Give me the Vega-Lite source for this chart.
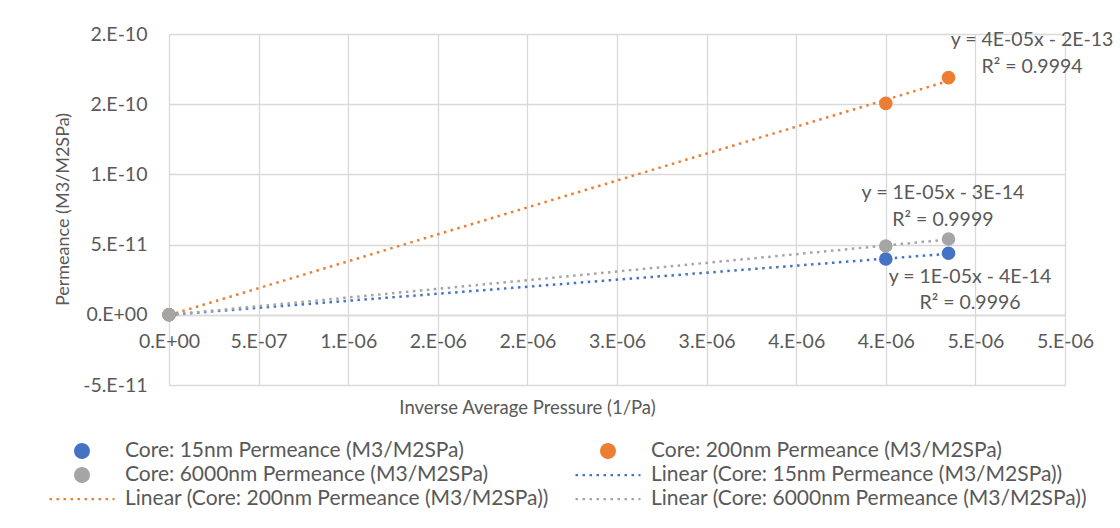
{
  "$schema": "https://vega.github.io/schema/vega-lite/v6.json",
  "width": 896,
  "height": 351,
  "autosize": {"type": "none"},
  "padding": {"left": 169, "top": 34, "right": 55, "bottom": 143},
  "background": "white",
  "config": {
    "view": {"stroke": null},
    "font": "Lato",
    "text": {"font": "Lato"}
  },
  "datasets": {
    "points": [
      {"x": 0, "y": 0, "series": "Core: 15nm Permeance (M3/M2SPa)", "trend": "Linear (Core: 15nm Permeance (M3/M2SPa))"},
      {"x": 4.0e-6, "y": 3.97e-11, "series": "Core: 15nm Permeance (M3/M2SPa)", "trend": "Linear (Core: 15nm Permeance (M3/M2SPa))"},
      {"x": 4.35e-6, "y": 4.38e-11, "series": "Core: 15nm Permeance (M3/M2SPa)", "trend": "Linear (Core: 15nm Permeance (M3/M2SPa))"},
      {"x": 0, "y": 0, "series": "Core: 200nm Permeance (M3/M2SPa)", "trend": "Linear (Core: 200nm Permeance (M3/M2SPa))"},
      {"x": 4.0e-6, "y": 1.506e-10, "series": "Core: 200nm Permeance (M3/M2SPa)", "trend": "Linear (Core: 200nm Permeance (M3/M2SPa))"},
      {"x": 4.35e-6, "y": 1.689e-10, "series": "Core: 200nm Permeance (M3/M2SPa)", "trend": "Linear (Core: 200nm Permeance (M3/M2SPa))"},
      {"x": 0, "y": 0, "series": "Core: 6000nm Permeance (M3/M2SPa)", "trend": "Linear (Core: 6000nm Permeance (M3/M2SPa))"},
      {"x": 4.0e-6, "y": 4.9e-11, "series": "Core: 6000nm Permeance (M3/M2SPa)", "trend": "Linear (Core: 6000nm Permeance (M3/M2SPa))"},
      {"x": 4.35e-6, "y": 5.4e-11, "series": "Core: 6000nm Permeance (M3/M2SPa)", "trend": "Linear (Core: 6000nm Permeance (M3/M2SPa))"}
    ],
    "annotations": [
      {"x": 4.816e-6, "y": 1.957e-10, "label": "y = 4E-05x - 2E-13"},
      {"x": 4.816e-6, "y": 1.765e-10, "label": "R² = 0.9994"},
      {"x": 4.319e-6, "y": 8.675e-11, "label": "y = 1E-05x - 3E-14"},
      {"x": 4.319e-6, "y": 6.752e-11, "label": "R² = 0.9999"},
      {"x": 4.47e-6, "y": 2.692e-11, "label": "y = 1E-05x - 4E-14"},
      {"x": 4.47e-6, "y": 8.4e-12, "label": "R² = 0.9996"}
    ]
  },
  "layer": [
    {
      "data": {"name": "points"},
      "transform": [
        {"regression": "y", "on": "x", "groupby": ["trend"], "method": "linear"}
      ],
      "mark": {"type": "line", "strokeWidth": 2.5, "clip": false},
      "encoding": {
        "x": {
          "field": "x",
          "type": "quantitative",
          "scale": {"domain": [0, 5e-6], "nice": false, "zero": false},
          "axis": {
            "values": [0, 5e-7, 1e-6, 1.5e-6, 2e-6, 2.5e-6, 3e-6, 3.5e-6, 4e-6, 4.5e-6, 5e-6],
            "labelExpr": "datum.value == 0 ? '0.E+00' : (datum.value < 0 ? '-' : '') + round(abs(datum.value) / pow(10, floor(log(abs(datum.value)) / LN10 + 1e-9)) + 1e-9) + '.E' + (floor(log(abs(datum.value)) / LN10 + 1e-9) < 0 ? '-' : '+') + (abs(floor(log(abs(datum.value)) / LN10 + 1e-9)) < 10 ? '0' : '') + abs(floor(log(abs(datum.value)) / LN10 + 1e-9))",
            "offset": -70,
            "ticks": false,
            "domain": true,
            "domainColor": "#D9D9D9",
            "domainWidth": 1.3,
            "grid": true,
            "gridColor": "#D9D9D9",
            "gridWidth": 1.3,
            "labelPadding": 17,
            "labelFontSize": 19.5,
            "labelColor": "#595959",
            "labelFont": "Lato",
            "labelFlush": false,
            "labelOverlap": false,
            "title": "Inverse Average Pressure (1/Pa)",
            "titleX": 358,
            "titleY": 92,
            "titleAlign": "center",
            "titleBaseline": "middle",
            "titleFontSize": 18.5,
            "titleFontWeight": "normal",
            "titleColor": "#595959",
            "titleFont": "Lato"
          }
        },
        "y": {
          "field": "y",
          "type": "quantitative",
          "scale": {"domain": [-5e-11, 2e-10], "nice": false, "zero": false},
          "axis": {
            "values": [-5e-11, 0, 5e-11, 1e-10, 1.5e-10, 2e-10],
            "labelExpr": "datum.value == 0 ? '0.E+00' : (datum.value < 0 ? '-' : '') + round(abs(datum.value) / pow(10, floor(log(abs(datum.value)) / LN10 + 1e-9)) + 1e-9) + '.E' + (floor(log(abs(datum.value)) / LN10 + 1e-9) < 0 ? '-' : '+') + (abs(floor(log(abs(datum.value)) / LN10 + 1e-9)) < 10 ? '0' : '') + abs(floor(log(abs(datum.value)) / LN10 + 1e-9))",
            "ticks": false,
            "domain": false,
            "grid": true,
            "gridColor": "#D9D9D9",
            "gridWidth": 1.3,
            "labelPadding": 22,
            "labelFontSize": 19.5,
            "labelColor": "#595959",
            "labelFont": "Lato",
            "labelFlush": false,
            "labelOverlap": false,
            "title": "Permeance (M3/M2SPa)",
            "titleX": -106,
            "titleY": 175,
            "titleAngle": 270,
            "titleAlign": "center",
            "titleBaseline": "middle",
            "titleFontSize": 18,
            "titleFontWeight": "normal",
            "titleColor": "#595959",
            "titleFont": "Lato"
          }
        },
        "color": {
          "field": "trend",
          "type": "nominal",
          "title": null,
          "scale": {
            "domain": [
              "Core: 15nm Permeance (M3/M2SPa)",
              "Core: 200nm Permeance (M3/M2SPa)",
              "Core: 6000nm Permeance (M3/M2SPa)",
              "Linear (Core: 15nm Permeance (M3/M2SPa))",
              "Linear (Core: 200nm Permeance (M3/M2SPa))",
              "Linear (Core: 6000nm Permeance (M3/M2SPa))"
            ],
            "range": ["#4472C4", "#ED7D31", "#A5A5A5", "#4472C4", "#ED7D31", "#A5A5A5"]
          },
          "legend": {
            "title": null,
            "orient": "none",
            "legendX": -121,
            "legendY": 405,
            "direction": "horizontal",
            "columns": 2,
            "columnPadding": 25,
            "rowPadding": 0,
            "clipHeight": 24,
            "symbolStrokeWidth": 2.25,
            "symbolOpacity": 1,
            "labelOffset": 9,
            "labelFontSize": 21,
            "labelColor": "#595959",
            "labelFont": "Lato",
            "labelLimit": 700
          }
        },
        "strokeDash": {
          "field": "trend",
          "type": "nominal",
          "title": null,
          "scale": {
            "domain": [
              "Core: 15nm Permeance (M3/M2SPa)",
              "Core: 200nm Permeance (M3/M2SPa)",
              "Core: 6000nm Permeance (M3/M2SPa)",
              "Linear (Core: 15nm Permeance (M3/M2SPa))",
              "Linear (Core: 200nm Permeance (M3/M2SPa))",
              "Linear (Core: 6000nm Permeance (M3/M2SPa))"
            ],
            "range": [[1, 0], [1, 0], [1, 0], [2.5, 4.5], [2.5, 4.5], [2.5, 4.5]]
          }
        }
      }
    },
    {
      "data": {"name": "points"},
      "mark": {"type": "point", "filled": true, "opacity": 1, "clip": false},
      "encoding": {
        "x": {"field": "x", "type": "quantitative"},
        "y": {"field": "y", "type": "quantitative"},
        "color": {
          "field": "series",
          "type": "nominal",
          "title": null,
          "scale": {
            "domain": [
              "Core: 15nm Permeance (M3/M2SPa)",
              "Core: 200nm Permeance (M3/M2SPa)",
              "Core: 6000nm Permeance (M3/M2SPa)",
              "Linear (Core: 15nm Permeance (M3/M2SPa))",
              "Linear (Core: 200nm Permeance (M3/M2SPa))",
              "Linear (Core: 6000nm Permeance (M3/M2SPa))"
            ],
            "range": ["#4472C4", "#ED7D31", "#A5A5A5", "#4472C4", "#ED7D31", "#A5A5A5"]
          }
        },
        "shape": {
          "field": "series",
          "type": "nominal",
          "title": null,
          "scale": {
            "domain": [
              "Core: 15nm Permeance (M3/M2SPa)",
              "Core: 200nm Permeance (M3/M2SPa)",
              "Core: 6000nm Permeance (M3/M2SPa)",
              "Linear (Core: 15nm Permeance (M3/M2SPa))",
              "Linear (Core: 200nm Permeance (M3/M2SPa))",
              "Linear (Core: 6000nm Permeance (M3/M2SPa))"
            ],
            "range": ["circle", "circle", "circle", "stroke", "stroke", "stroke"]
          }
        },
        "size": {
          "field": "series",
          "type": "nominal",
          "title": null,
          "scale": {
            "type": "ordinal",
            "domain": [
              "Core: 15nm Permeance (M3/M2SPa)",
              "Core: 200nm Permeance (M3/M2SPa)",
              "Core: 6000nm Permeance (M3/M2SPa)",
              "Linear (Core: 15nm Permeance (M3/M2SPa))",
              "Linear (Core: 200nm Permeance (M3/M2SPa))",
              "Linear (Core: 6000nm Permeance (M3/M2SPa))"
            ],
            "range": [185, 185, 185, 4225, 4225, 4225]
          }
        }
      }
    },
    {
      "data": {"name": "annotations"},
      "mark": {"type": "text", "align": "center", "baseline": "middle", "fontSize": 19.5, "color": "#595959", "font": "Lato", "clip": false},
      "encoding": {
        "x": {"field": "x", "type": "quantitative"},
        "y": {"field": "y", "type": "quantitative"},
        "text": {"field": "label", "type": "nominal"}
      }
    }
  ]
}
